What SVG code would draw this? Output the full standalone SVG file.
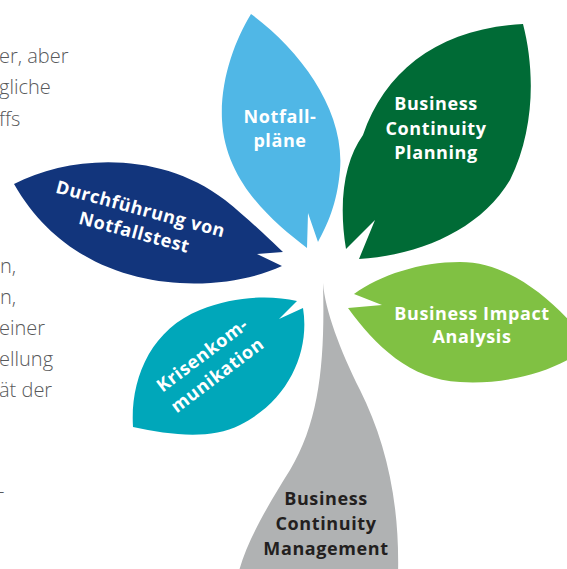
<svg xmlns="http://www.w3.org/2000/svg" width="567" height="569" viewBox="0 0 567 569">
  <style>
    .body { font-family: "Open Sans", "Liberation Sans", sans-serif; font-size: 20px; font-weight: 300; fill: #58595b; }
    .lbl { font-family: "Open Sans", "Liberation Sans", sans-serif; font-size: 18px; font-weight: 700; fill: #ffffff; text-anchor: middle; letter-spacing: 0.6px; }
    .lbl-dark { fill: #231f20; }
  </style>
  <rect width="567" height="569" fill="#ffffff"/>

  <!-- running text cut off at the left margin -->
  <g id="body-text">
    <text class="body" x="-1" y="63">er, aber</text>
    <text class="body" x="-1" y="94">gliche</text>
    <text class="body" x="-1" y="126">ffs</text>
    <text class="body" x="0" y="273">n,</text>
    <text class="body" x="0" y="304">n,</text>
    <text class="body" x="-1" y="335">einer</text>
    <text class="body" x="-1" y="366">ellung</text>
    <text class="body" x="-1" y="397">ät der</text>
    <text class="body" x="-2" y="498">-</text>
  </g>

  <!-- stem -->
  <g id="bcm">
    <path d="M323,283 C325,360 320,420 290,470 C265,510 245,545 238,575 L398,575 C400,500 385,440 360,390 C340,350 325,310 323,283 Z" fill="#b0b2b3"/>
    <text class="lbl lbl-dark" x="326" y="505">Business</text>
    <text class="lbl lbl-dark" x="326" y="530">Continuity</text>
    <text class="lbl lbl-dark" x="326" y="555">Management</text>
  </g>

  <!-- leaves -->
  <g id="notfallplaene">
    <path d="M251,14 C300,50 345,110 340,170 C337,205 327,225 318,242 L308,213 L307,248 C270,220 225,180 222,120 C220,80 235,40 251,14 Z" fill="#50b7e6"/>
    <text class="lbl" x="280" y="123">Notfall-</text>
    <text class="lbl" x="280" y="147">pläne</text>
  </g>

  <g id="bcp">
    <path d="M523,24 C535,70 535,130 510,180 C480,230 420,255 359,259 L375,220 L346,249 C338,200 345,160 363,135 C385,70 440,28 523,24 Z" fill="#006b36"/>
    <text class="lbl" x="436" y="110">Business</text>
    <text class="lbl" x="436" y="135">Continuity</text>
    <text class="lbl" x="436" y="159">Planning</text>
  </g>

  <g id="notfallstest">
    <path d="M14,184 C70,155 160,150 225,200 C250,220 270,240 283,252 L257,254 L282,266 C220,295 80,300 14,184 Z" fill="#12357c"/>
    <g transform="translate(139,215) rotate(15)">
      <text class="lbl" x="0" y="0">Durchführung von</text>
      <text class="lbl" x="0" y="24">Notfallstest</text>
    </g>
  </g>

  <g id="bia">
    <path d="M354,294 C380,275 420,262 460,262 C510,262 555,300 590,345 C560,370 510,385 460,382 C410,380 375,345 348,308 L382,305 Z" fill="#80c143"/>
    <text class="lbl" x="472" y="320">Business Impact</text>
    <text class="lbl" x="472" y="343">Analysis</text>
  </g>

  <g id="krisenkommunikation">
    <path d="M297,301 L279,319 L303,308 C310,350 290,400 240,425 C210,440 170,435 133,427 C130,380 150,330 200,310 C235,296 270,295 297,301 Z" fill="#00a7ba"/>
    <g transform="translate(206,360) rotate(-37)">
      <text class="lbl" x="0" y="0">Krisenkom-</text>
      <text class="lbl" x="0" y="25">munikation</text>
    </g>
  </g>
</svg>
